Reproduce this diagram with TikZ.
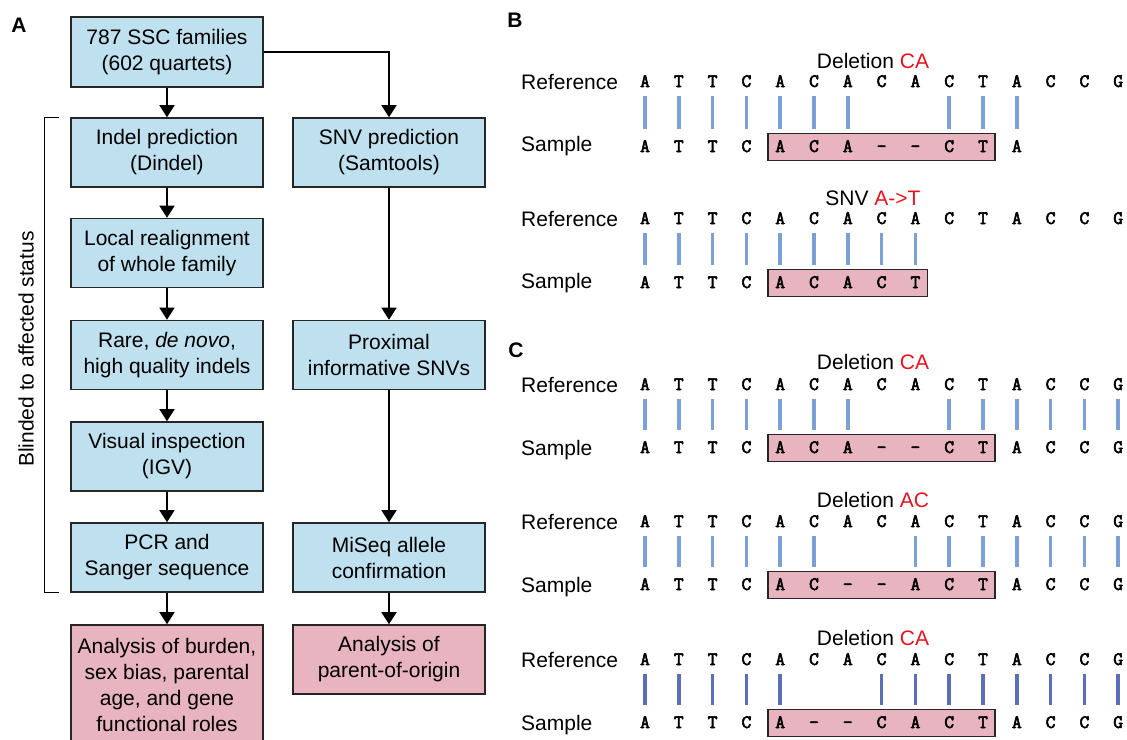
\documentclass[tikz,border=0pt]{standalone}
\usepackage{fontspec}
\setmainfont{Liberation Sans}
\newfontfamily\seqfont{Latin Modern Mono}[FakeBold=3]
\usetikzlibrary{arrows.meta, positioning, fit, backgrounds}
\definecolor{boxblue}{RGB}{190,224,239}
\definecolor{boxpink}{RGB}{232,180,192}
\definecolor{delred}{RGB}{230,20,30}
\definecolor{barblue}{RGB}{122,160,214}
\definecolor{bardark}{RGB}{92,110,184}
\tikzset{
  flow/.style={draw=black!85, line width=1.6pt, minimum width=192pt, minimum height=69pt, align=center, inner sep=0pt, font=\fontsize{21}{26}\selectfont, execute at begin node=\rule{0pt}{21pt}},
  stepblue/.style={flow, fill=boxblue},
  steppink/.style={flow, fill=boxpink},
  arr/.style={line width=1.6pt, -{Triangle[width=15pt,length=12pt]}},
  base/.style={font=\seqfont\fontsize{19}{19}\selectfont, inner sep=0pt, minimum width=24pt, text height=10pt, text depth=0pt},
  lbl/.style={font=\fontsize{21}{26}\selectfont, anchor=base west, inner sep=0pt},
  ttl/.style={font=\fontsize{21}{26}\selectfont, inner sep=0pt},
  bar/.style={line width=3.6pt, barblue, shorten <=14pt, shorten >=18pt},
  hl/.style={draw=black!85, line width=1.5pt, fill=boxpink, inner xsep=0pt, inner ysep=8.5pt},
  panel/.style={font=\bfseries\fontsize{21}{21}\selectfont, inner sep=0pt}
}
\newcommand{\seqrow}[3]{\foreach \b [count=\i from 0] in {#3} \node[base] (#1\i) at (645+33.8*\i,#2) {\b};}
\newcommand{\seqbars}[4]{\foreach \i in {#3} \draw[bar,#4] (#1\i.center) -- (#2\i.center);}

\begin{document}
\begin{tikzpicture}[x=1pt,y=-1pt]
\useasboundingbox (0,0) rectangle (1127,739);
\node[panel] (pa) at (19,25) {A};
\node[panel] (pb) at (515,20) {B};
\node[panel] (pc) at (516,350) {C};

\node[stepblue, minimum height=70pt] (fam) at (167,52) {787 SSC families\\(602 quartets)};
\node[stepblue] (indel) at (167,152.5) {Indel prediction\\(Dindel)};
\node[stepblue] (realign) at (167,253) {Local realignment\\of whole family};
\node[stepblue] (rare) at (167,355) {Rare, \textit{de novo},\\high quality indels};
\node[stepblue] (igv) at (167,456.5) {Visual inspection\\(IGV)};
\node[stepblue] (pcr) at (167,557.5) {PCR and\\Sanger sequence};
\node[steppink, minimum height=120pt] (burden) at (167,685) {Analysis of burden,\\sex bias, parental\\age, and gene\\functional roles};
\node[stepblue] (snv) at (389,152.5) {SNV prediction\\(Samtools)};
\node[stepblue] (prox) at (389,355) {Proximal\\informative SNVs};
\node[stepblue] (miseq) at (389,557.5) {MiSeq allele\\confirmation};
\node[steppink] (origin) at (389,659.5) {Analysis of\\parent-of-origin};

\draw[arr] (fam) -- (indel);
\draw[arr] (indel) -- (realign);
\draw[arr] (realign) -- (rare);
\draw[arr] (rare) -- (igv);
\draw[arr] (igv) -- (pcr);
\draw[arr] (pcr) -- (burden);
\draw[arr] (fam.east) -| (snv.north);
\draw[arr] (snv) -- (prox);
\draw[arr] (prox) -- (miseq);
\draw[arr] (miseq) -- (origin);
\draw[line width=1.3pt] ([xshift=-11pt]indel.north west) -| ([xshift=-26pt]pcr.south west) -- ([xshift=-11pt]pcr.south west);
\node[rotate=90, font=\fontsize{21}{26}\selectfont, inner sep=0pt] (blind) at (26,349) {Blinded to affected status};

\node[ttl] (ttlb1) at (873,61) {Deletion \textcolor{delred}{CA}};
\node[lbl] (refb1) at (521,89) {Reference};
\node[lbl] (smpb1) at (521,151) {Sample};
\seqrow{rb1-}{82}{A,T,T,C,A,C,A,C,A,C,T,A,C,C,G}
\seqrow{sb1-}{147}{A,T,T,C,A,C,A,-,-,C,T,A}
\seqbars{rb1-}{sb1-}{0,1,2,3,4,5,6,9,10,11}{}
\begin{scope}[on background layer]\node[hl, fit=(sb1-4)(sb1-10)] (hlb1) {};\end{scope}

\node[ttl] (ttlb2) at (873,198) {SNV \textcolor{delred}{A->T}};
\node[lbl] (refb2) at (521,226) {Reference};
\node[lbl] (smpb2) at (521,288) {Sample};
\seqrow{rb2-}{219}{A,T,T,C,A,C,A,C,A,C,T,A,C,C,G}
\seqrow{sb2-}{283}{A,T,T,C,A,C,A,C,T}
\seqbars{rb2-}{sb2-}{0,1,2,3,4,5,6,7,8}{}
\begin{scope}[on background layer]\node[hl, fit=(sb2-4)(sb2-8)] (hlb2) {};\end{scope}

\node[ttl] (ttlc1) at (873,362) {Deletion \textcolor{delred}{CA}};
\node[lbl] (refc1) at (521,392) {Reference};
\node[lbl] (smpc1) at (521,455) {Sample};
\seqrow{rc1-}{385}{A,T,T,C,A,C,A,C,A,C,T,A,C,C,G}
\seqrow{sc1-}{448}{A,T,T,C,A,C,A,-,-,C,T,A,C,C,G}
\seqbars{rc1-}{sc1-}{0,1,2,3,4,5,6,9,10,11,12,13,14}{}
\begin{scope}[on background layer]\node[hl, fit=(sc1-4)(sc1-10)] (hlc1) {};\end{scope}

\node[ttl] (ttlc2) at (873,500) {Deletion \textcolor{delred}{AC}};
\node[lbl] (refc2) at (521,529) {Reference};
\node[lbl] (smpc2) at (521,592) {Sample};
\seqrow{rc2-}{522}{A,T,T,C,A,C,A,C,A,C,T,A,C,C,G}
\seqrow{sc2-}{585}{A,T,T,C,A,C,-,-,A,C,T,A,C,C,G}
\seqbars{rc2-}{sc2-}{0,1,2,3,4,5,8,9,10,11,12,13,14}{}
\begin{scope}[on background layer]\node[hl, fit=(sc2-4)(sc2-10)] (hlc2) {};\end{scope}

\node[ttl] (ttlc3) at (873,638) {Deletion \textcolor{delred}{CA}};
\node[lbl] (refc3) at (521,667) {Reference};
\node[lbl] (smpc3) at (521,730) {Sample};
\seqrow{rc3-}{660}{A,T,T,C,A,C,A,C,A,C,T,A,C,C,G}
\seqrow{sc3-}{723}{A,T,T,C,A,-,-,C,A,C,T,A,C,C,G}
\seqbars{rc3-}{sc3-}{0,1,2,3,4,7,8,9,10,11,12,13,14}{bardark}
\begin{scope}[on background layer]\node[hl, fit=(sc3-4)(sc3-10)] (hlc3) {};\end{scope}
\end{tikzpicture}
\end{document}
